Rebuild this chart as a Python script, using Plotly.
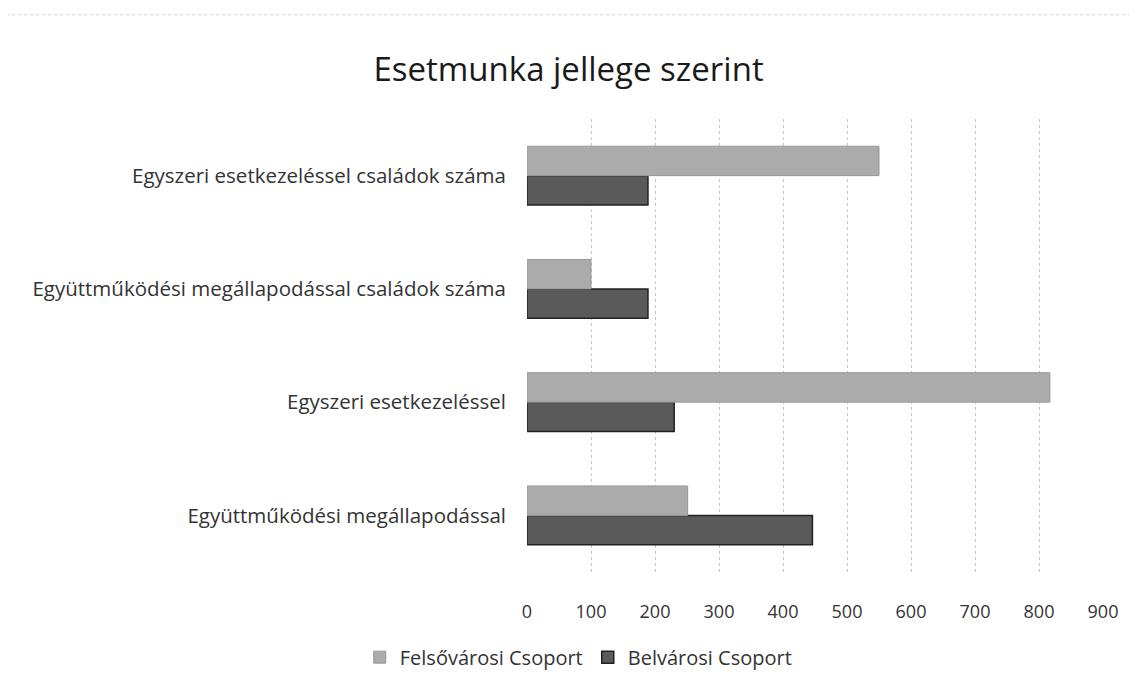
import plotly.graph_objects as go

categories = [
    "Együttműködési megállapodással",
    "Egyszeri esetkezeléssel",
    "Együttműködési megállapodással családok száma",
    "Egyszeri esetkezeléssel családok száma",
]
felsovarosi = [251, 817, 100, 550]
belvarosi = [446, 230, 189, 189]
x_ticks = [0, 100, 200, 300, 400, 500, 600, 700, 800, 900]

font_family = "'Open Sans', 'Noto Sans', sans-serif"

fig = go.Figure()
fig.add_trace(go.Bar(
    y=categories, x=belvarosi, orientation="h", name="Belvárosi Csoport",
    marker=dict(color="#5a5a5a", line=dict(color="#222222", width=1.5)),
    legendrank=2,
))
fig.add_trace(go.Bar(
    y=categories, x=felsovarosi, orientation="h", name="Felsővárosi Csoport",
    marker=dict(color="#ababab", line=dict(color="#999999", width=1)),
    legendrank=1,
))

fig.update_layout(
    width=1137, height=695,
    paper_bgcolor="white", plot_bgcolor="white",
    barmode="group", bargap=0.48, bargroupgap=0.0,
    margin=dict(l=519, r=42, t=111, b=131),
    title=dict(text="Esetmunka jellege szerint", x=0.493, xanchor="center",
               xref="container", y=0.911, yanchor="middle",
               font=dict(family=font_family, size=33, color="#1a1a1a")),
    font=dict(family=font_family, size=20, color="#333333"),
    xaxis=dict(range=[0, 900], tickvals=x_ticks, showgrid=True,
               gridcolor="#c4c4c4", griddash="dot", gridwidth=1,
               zeroline=False, showline=False, ticks="",
               ticklabelstandoff=27,
               tickfont=dict(size=18, color="#333333")),
    yaxis=dict(categoryorder="array", categoryarray=categories,
               showgrid=False, zeroline=False, showline=False, ticks="",
               ticklabelstandoff=20,
               tickfont=dict(size=20.5, color="#333333")),
    legend=dict(orientation="h", x=0.089, xanchor="center", xref="paper",
                y=-0.188, yanchor="middle",
                font=dict(size=20, color="#333333"),
                itemwidth=30, traceorder="normal"),
    shapes=[dict(type="rect", xref="paper", yref="paper",
                 x0=-0.906, x1=1.049, y0=-0.35, y1=1.23,
                 line=dict(color="#d0d0d0", width=1, dash="dot"))],
)

fig.write_html("out.html")
